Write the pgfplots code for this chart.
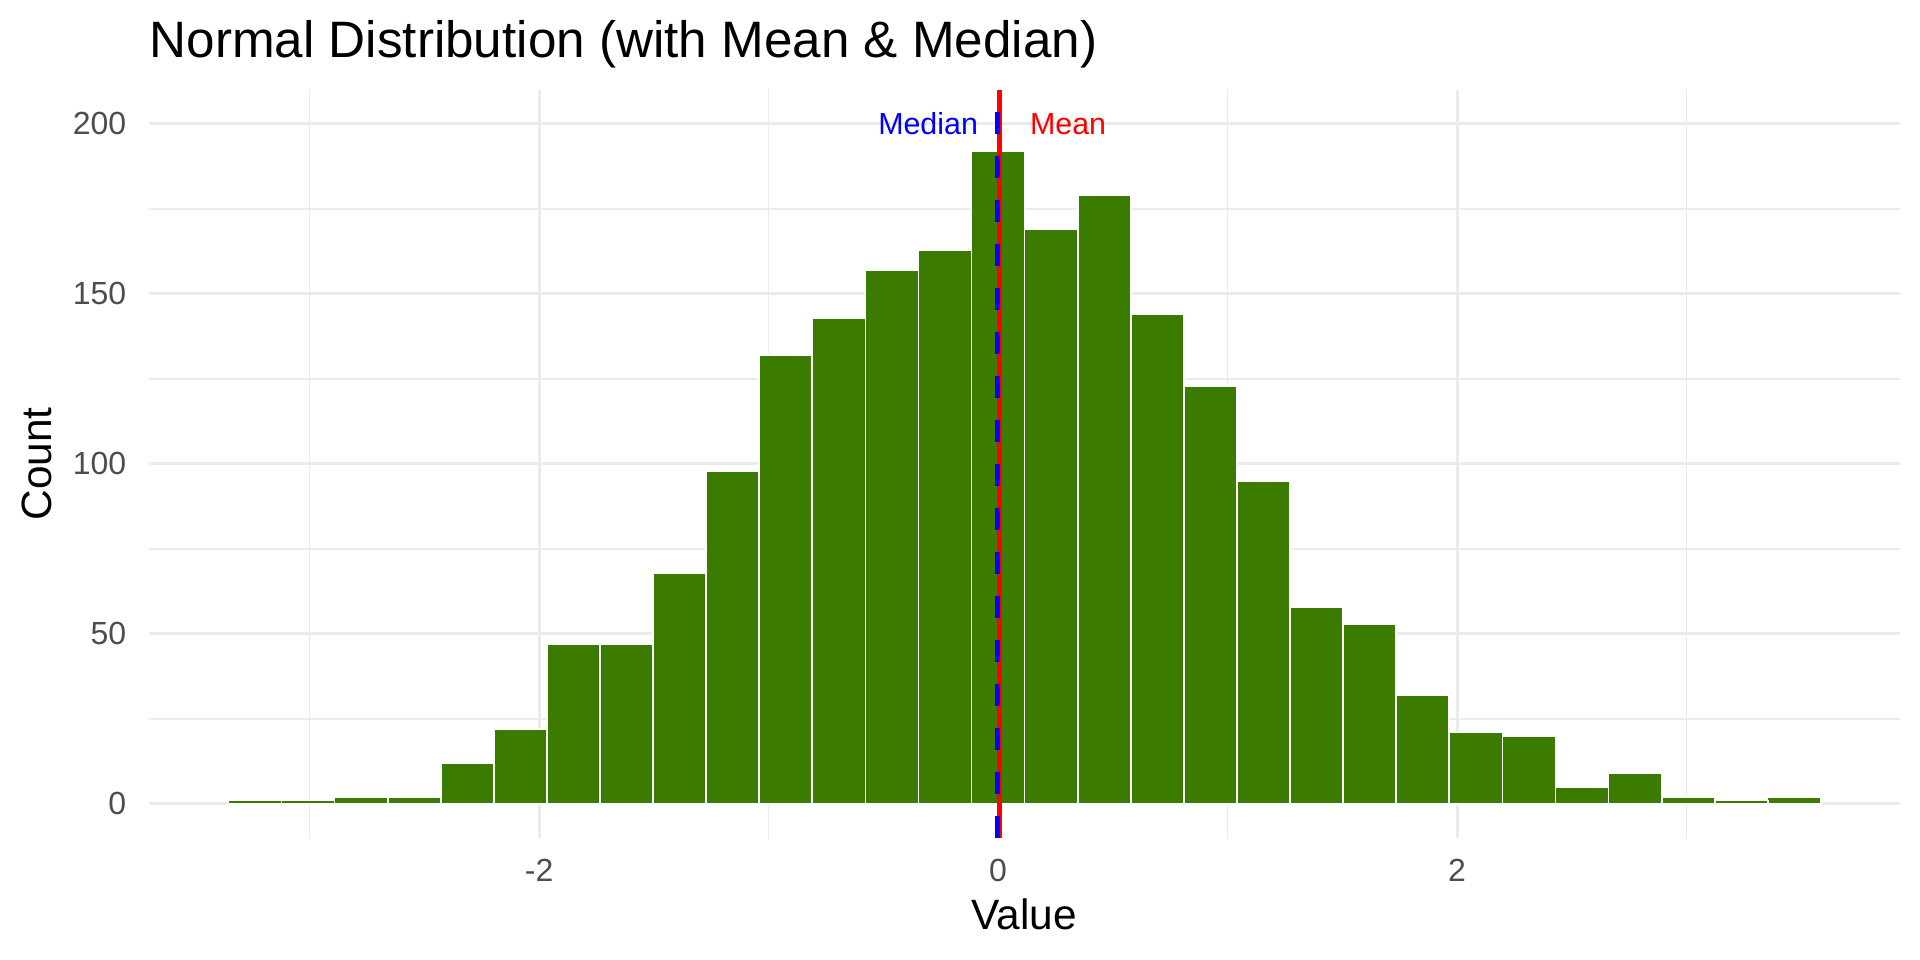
\documentclass[border=0pt]{standalone}
\usepackage{pgfplots}
\pgfplotsset{compat=1.18}
\usepackage{fontspec}
\setmainfont{Liberation Sans}
\definecolor{barg}{HTML}{3A7B00}
\definecolor{gridc}{HTML}{EBEBEB}
\definecolor{tickc}{HTML}{4D4D4D}
\begin{document}
\begin{tikzpicture}
\begin{axis}[
  at={(0,0)}, anchor=south west,
  scale only axis, width=437.75pt, height=187pt,
  xmin=-3.70, xmax=3.93, ymin=-10, ymax=210,
  axis line style={draw=none},
  major tick length=0pt, minor tick length=0pt,
  xtick={-2,0,2}, xticklabels={-2,0,2},
  minor xtick={-3,-1,1,3},
  ytick={0,50,100,150,200}, yticklabels={0,50,100,150,200},
  minor ytick={25,75,125,175},
  grid=both,
  major grid style={gridc, line width=0.75pt},
  minor grid style={gridc, line width=0.38pt},
  tick label style={font=\fontsize{8}{9.6}\selectfont, text=tickc},
  yticklabel style={inner sep=0pt, xshift=-5.5pt},
  xticklabel style={inner sep=0pt, yshift=-5pt},
  xlabel={Value}, ylabel={Count},
  label style={font=\fontsize{10.6}{12.6}\selectfont},
  xlabel style={at={(axis description cs:0.5,0)}, anchor=base, yshift=-23pt, inner sep=0pt},
  ylabel style={at={([xshift=-24.3pt]axis description cs:0,0.5)}, anchor=base, inner sep=0pt},
  title={Normal Distribution (with Mean \& Median)},
  title style={at={(axis description cs:0,1)}, anchor=base west, yshift=2pt, inner sep=0pt, font=\fontsize{12.8}{15.4}\selectfont},
]
\addplot[ybar, bar width=0.2313, bar shift=0pt, fill=barg, draw=white, line width=0.4pt] coordinates {
(-3.238,1) (-3.007,1) (-2.776,2) (-2.544,2) (-2.313,12) (-2.082,22)
(-1.850,47) (-1.619,47) (-1.388,68) (-1.157,98) (-0.925,132) (-0.694,143)
(-0.463,157) (-0.231,163) (0.000,192) (0.231,169) (0.463,179) (0.694,144)
(0.925,123) (1.157,95) (1.388,58) (1.619,53) (1.850,32) (2.082,21)
(2.313,20) (2.544,5) (2.776,9) (3.007,2) (3.238,1) (3.469,2)
};
\addplot[red, line width=1.25pt] coordinates {(0.006,-10) (0.006,210)};
\addplot[blue, line width=1.25pt, dash pattern=on 5.5pt off 5.5pt] coordinates {(-0.003,-10) (-0.003,210)};
\node[blue, font=\fontsize{7.6}{9}\selectfont] at (axis cs:-0.305,200) {Median};
\node[red, font=\fontsize{7.6}{9}\selectfont] at (axis cs:0.305,200) {Mean};
\end{axis}
\pgfresetboundingbox
\path (-37.25pt,-30.5pt) rectangle (442.75pt,209.5pt);
\end{tikzpicture}
\end{document}
